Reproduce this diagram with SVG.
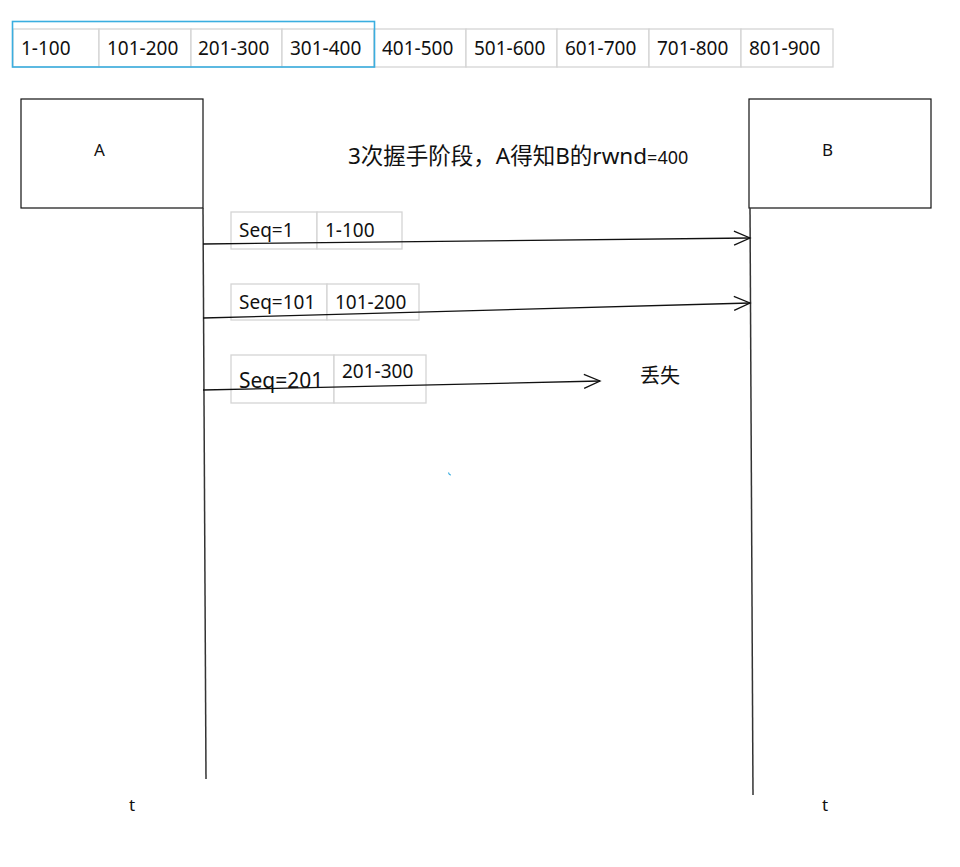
<svg xmlns="http://www.w3.org/2000/svg" width="960" height="867" viewBox="0 0 960 867">
<style>
text{font-family:"Noto Sans","Noto Sans CJK SC",sans-serif;fill:#111}
.cell{fill:#fff;stroke:#d4d4d4;stroke-width:1.3}
.t{font-size:19px}
.box{fill:#fff;stroke:#111;stroke-width:1.2}
.life{stroke:#333;stroke-width:1.5;fill:none}
.msg{stroke:#111;stroke-width:1.3;fill:none;marker-end:url(#arr)}
</style>
<defs>
<marker id="arr" markerWidth="20" markerHeight="16" refX="17" refY="8" orient="auto" markerUnits="userSpaceOnUse">
<polyline points="1,1 17,8 1,15" fill="none" stroke="#111" stroke-width="1.3"/>
</marker>
</defs>
<rect width="960" height="867" fill="#fff"/>
<g id="window">
<rect class="cell" x="13" y="29" width="86" height="38"/>
<rect class="cell" x="99" y="29" width="92" height="38"/>
<rect class="cell" x="191" y="29" width="91" height="38"/>
<rect class="cell" x="282" y="29" width="92" height="38"/>
<rect class="cell" x="374" y="29" width="92" height="38"/>
<rect class="cell" x="466" y="29" width="91" height="38"/>
<rect class="cell" x="557" y="29" width="92" height="38"/>
<rect class="cell" x="649" y="29" width="92" height="38"/>
<rect class="cell" x="741" y="29" width="92" height="38"/>
<text class="t" x="21" y="55">1-100</text>
<text class="t" x="107" y="55">101-200</text>
<text class="t" x="198" y="55">201-300</text>
<text class="t" x="290" y="55">301-400</text>
<text class="t" x="382" y="55">401-500</text>
<text class="t" x="474" y="55">501-600</text>
<text class="t" x="565" y="55">601-700</text>
<text class="t" x="657" y="55">701-800</text>
<text class="t" x="749" y="55">801-900</text>
<rect x="12.5" y="21.5" width="362" height="45.5" fill="none" stroke="#3aaee0" stroke-width="1.6"/>
</g>
<g id="A">
<rect class="box" x="21" y="99" width="182" height="109"/>
<text x="94" y="156" font-size="17">A</text>
</g>
<g id="B">
<rect class="box" x="749" y="99" width="182" height="109"/>
<text x="822" y="156" font-size="17">B</text>
</g>
<g id="title">
<text x="348" y="164" font-size="22.5">3次握手阶段，A得知B的rwnd<tspan font-size="18">=400</tspan></text>
</g>
<g id="lifelines">
<line class="life" x1="203" y1="208" x2="206" y2="779"/>
<line class="life" x1="750" y1="208" x2="753" y2="795"/>
<text x="129" y="811" font-size="17">t</text>
<text x="822" y="811" font-size="17">t</text>
</g>
<g id="seg1">
<rect class="cell" x="231" y="212" width="86" height="37"/>
<rect class="cell" x="317" y="212" width="85" height="37"/>
<text class="t" x="239" y="237">Seq=1</text>
<text class="t" x="325" y="237">1-100</text>
</g>
<g id="seg2">
<rect class="cell" x="231" y="284" width="96" height="36"/>
<rect class="cell" x="327" y="284" width="92" height="36"/>
<text class="t" x="239" y="309">Seq=101</text>
<text class="t" x="335" y="309">101-200</text>
</g>
<g id="seg3">
<rect class="cell" x="231" y="355" width="103" height="48"/>
<rect class="cell" x="334" y="355" width="92" height="48"/>
<text x="239" y="388" font-size="21">Seq=201</text>
<text class="t" x="342" y="378">201-300</text>
</g>
<g id="lost">
<text x="640" y="383" font-size="20">丢失</text>
</g>
<g id="connectors">
<line class="msg" x1="203" y1="244" x2="750" y2="238"/>
<line class="msg" x1="203" y1="318" x2="750" y2="303"/>
<line class="msg" x1="203" y1="390" x2="600" y2="381"/>
</g>
<path d="M448.5,472.5 q0.5,2.5 2.5,2.5" fill="none" stroke="#3aaee0" stroke-width="1.2"/>
</svg>
